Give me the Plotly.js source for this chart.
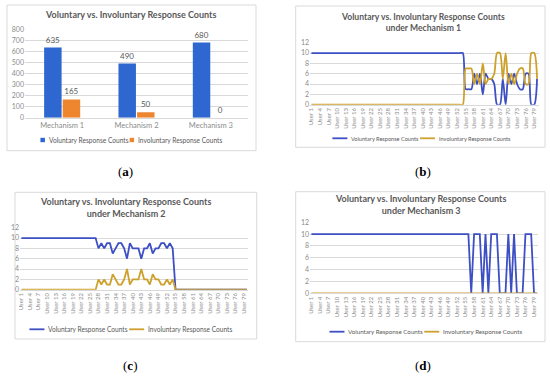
<!DOCTYPE html>
<html><head><meta charset="utf-8">
<script src="https://cdn.plot.ly/plotly-3.0.1.min.js"></script>
<style>html,body{margin:0;padding:0;background:#fff;} #chart{width:550px;height:377px;}</style>
</head><body><div id="chart"></div>
<script>
// ---------- data ----------
const mechanisms = ["Mechanism 1", "Mechanism 2", "Mechanism 3"];
const voluntaryTotals = [635, 490, 680];
const involuntaryTotals = [165, 50, 0];

const users = Array.from({length: 80}, (_, i) => "User " + (i + 1));
const userTicks = users.filter((_, i) => i % 3 === 0);

const m1Voluntary = [
  10,10,10,10,10,10,10,10,10,10,
  10,10,10,10,10,10,10,10,10,10,
  10,10,10,10,10,10,10,10,10,10,
  10,10,10,10,10,10,10,10,10,10,
  10,10,10,10,10,10,10,10,10,10,
  10,10,10,10,3,3,3,6,4,6,
  2,6,5,5,4,0,0,5,0,6,
  4,6,4,3,3,6,6,0,0,5];
const m1Involuntary = [
  0,0,0,0,0,0,0,0,0,0,
  0,0,0,0,0,0,0,0,0,0,
  0,0,0,0,0,0,0,0,0,0,
  0,0,0,0,0,0,0,0,0,0,
  0,0,0,0,0,0,0,0,0,0,
  0,0,0,0,7,7,7,4,6,4,
  8,4,5,5,6,10,10,5,10,4,
  6,4,6,7,7,4,4,10,10,5];

const m2Voluntary = [
  10,10,10,10,10,10,10,10,10,10,
  10,10,10,10,10,10,10,10,10,10,
  10,10,10,10,10,10,10,8,9,8,
  9,9,7,8,9,9,8,6,9,8,
  8,8,6,8,8,9,7,8,8,9,
  9,8,9,8,0,0,0,0,0,0,
  0,0,0,0,0,0,0,0,0,0,
  0,0,0,0,0,0,0,0,0,0];
const m2Involuntary = [
  0,0,0,0,0,0,0,0,0,0,
  0,0,0,0,0,0,0,0,0,0,
  0,0,0,0,0,0,0,2,1,2,
  1,1,3,2,1,1,2,4,1,2,
  2,2,4,2,2,1,3,2,2,1,
  1,2,1,2,0,0,0,0,0,0,
  0,0,0,0,0,0,0,0,0,0,
  0,0,0,0,0,0,0,0,0,0];

const m3Voluntary = [
  10,10,10,10,10,10,10,10,10,10,
  10,10,10,10,10,10,10,10,10,10,
  10,10,10,10,10,10,10,10,10,10,
  10,10,10,10,10,10,10,10,10,10,
  10,10,10,10,10,10,10,10,10,10,
  10,10,10,10,10,10,0,10,10,10,
  0,10,0,10,10,10,0,0,0,10,
  0,10,0,0,0,10,10,10,0,0];
const m3Involuntary = [
  0,0,0,0,0,0,0,0,0,0,
  0,0,0,0,0,0,0,0,0,0,
  0,0,0,0,0,0,0,0,0,0,
  0,0,0,0,0,0,0,0,0,0,
  0,0,0,0,0,0,0,0,0,0,
  0,0,0,0,0,0,0,0,0,0,
  0,0,0,0,0,0,0,0,0,0,
  0,0,0,0,0,0,0,0,0,0];

const seriesNames = ["Voluntary Response Counts", "Involuntary Response Counts"];
const chartTitle = "Voluntary vs. Involuntary Response Counts";
const subTitles = ["under Mechanism 1", "under Mechanism 2", "under Mechanism 3"];
const panelLabels = ["a", "b", "c", "d"];

// ---------- style ----------
const FONT = "Lato, 'Noto Sans', sans-serif";
const BAR_BLUE = "#2D67CF", BAR_ORANGE = "#EE8630";
const LINE_BLUE = "#3D4FC4", LINE_GOLD = "#CDA12C";
const GRID = "#d9d9d9", TICK = "#8c8c8c", TXT = "#595959";
const W = 550, H = 377;
const px = v => v / W, py = v => 1 - v / H;

const traces = [
  {type: "bar", x: mechanisms, y: voluntaryTotals, name: seriesNames[0], marker: {color: BAR_BLUE},
   text: voluntaryTotals.map(String), textposition: "outside", cliponaxis: false,
   textfont: {family: FONT, size: 8, color: TXT}, xaxis: "x", yaxis: "y"},
  {type: "bar", x: mechanisms, y: involuntaryTotals, name: seriesNames[1], marker: {color: BAR_ORANGE},
   text: involuntaryTotals.map(String), textposition: "outside", cliponaxis: false,
   textfont: {family: FONT, size: 8, color: TXT}, xaxis: "x", yaxis: "y"}
];
const lineSets = [[m1Voluntary, m1Involuntary, "spline"], [m2Voluntary, m2Involuntary, "linear"], [m3Voluntary, m3Involuntary, "linear"]];
lineSets.forEach((s, i) => {
  const n = i + 2;
  traces.push({type: "scatter", mode: "lines", x: users, y: s[0], name: seriesNames[0],
    line: {color: LINE_BLUE, width: 1.8, shape: s[2], smoothing: 0.8}, xaxis: "x" + n, yaxis: "y" + n, cliponaxis: false});
  traces.push({type: "scatter", mode: "lines", x: users, y: s[1], name: seriesNames[1],
    line: {color: LINE_GOLD, width: 1.8, shape: s[2], smoothing: 0.8}, xaxis: "x" + n, yaxis: "y" + n, cliponaxis: false});
});

const tickFont = {family: FONT, size: 7, color: TICK};
function lineX(dom, yref) {
  return {domain: dom, anchor: yref, type: "category", range: [-0.5, 79.5], tickmode: "array", tickvals: userTicks,
    tickangle: -90, tickfont: {family: FONT, size: 6, color: TICK}, showgrid: false, showline: true,
    linecolor: GRID, linewidth: 1, ticks: "", fixedrange: true};
}
function lineY(dom, xref) {
  return {domain: dom, anchor: xref, range: [0, 12], dtick: 2, tickfont: tickFont, gridcolor: GRID, gridwidth: 1,
    zeroline: false, showline: false, ticks: "", fixedrange: true};
}

// ---------- legends (keys + text, laid out centred) ----------
const ctx = document.createElement("canvas").getContext("2d");
function textWidth(s, fs) { ctx.font = fs + "px Lato"; return ctx.measureText(s).width; }
// [centre x, y, font size, key kind, key colours]
const legendSpecs = [
  [130.5, 140.0, 6.6, "box", BAR_BLUE, BAR_ORANGE],
  [420.5, 138.3, 5.6, "line", LINE_BLUE, LINE_GOLD],
  [130.0, 329.3, 6.6, "line", LINE_BLUE, LINE_GOLD],
  [425.0, 331.7, 6.2, "line", LINE_BLUE, LINE_GOLD]
];
const legendShapes = [], legendTexts = [];
legendSpecs.forEach(s => {
  const [cx, y, fs, kind, c1, c2] = s;
  const keyLen = kind === "box" ? 4.5 : 15;
  const w1 = textWidth(seriesNames[0], fs), w2 = textWidth(seriesNames[1], fs);
  const total = keyLen + 2 + w1 + 3 + keyLen + 2 + w2;
  let x = cx - total / 2;
  [[c1, seriesNames[0], w1], [c2, seriesNames[1], w2]].forEach(item => {
    if (kind === "box") {
      legendShapes.push({type: "rect", xref: "paper", yref: "paper", x0: px(x), x1: px(x + keyLen),
        y0: py(y + 2.2), y1: py(y - 2.2), line: {width: 0}, fillcolor: item[0]});
    } else {
      legendShapes.push({type: "line", xref: "paper", yref: "paper", x0: px(x), x1: px(x + keyLen),
        y0: py(y), y1: py(y), line: {color: item[0], width: 1.8}});
    }
    x += keyLen + 2;
    legendTexts.push({text: item[1], x: px(x), y: py(y), xref: "paper", yref: "paper", xanchor: "left",
      yanchor: "middle", showarrow: false, font: {family: FONT, size: fs, color: TXT}});
    x += item[2] + 3;
  });
});

const boxes = [[7, 5, 256, 150.7], [295.7, 6, 545, 147.3], [15, 192.3, 256.7, 339], [295.7, 191.7, 545, 341.7]];

const layout = {
  width: W, height: H, margin: {l: 0, r: 0, t: 0, b: 0}, paper_bgcolor: "#fff", plot_bgcolor: "rgba(0,0,0,0)",
  showlegend: false, barmode: "group", bargap: 0.5, bargroupgap: 0.06, font: {family: FONT, color: TXT},
  xaxis: {domain: [px(25), px(248)], anchor: "y", type: "category", showgrid: false, showline: true, linecolor: GRID,
    ticks: "", tickfont: {family: FONT, size: 7.5, color: TICK}, fixedrange: true},
  yaxis: {domain: [py(117.7), py(29.3)], anchor: "x", range: [0, 800], dtick: 100, gridcolor: GRID, zeroline: false,
    showline: false, ticks: "", tickfont: tickFont, fixedrange: true},
  xaxis2: lineX([px(310), px(538.5)], "y2"),
  yaxis2: lineY([py(104.7), py(42.7)], "x2"),
  xaxis3: lineX([px(20), px(248.3)], "y3"),
  yaxis3: lineY([py(289.7), py(227.7)], "x3"),
  xaxis4: lineX([px(310), px(538.3)], "y4"),
  yaxis4: lineY([py(293.3), py(222.3)], "x4"),
  shapes: boxes.map(b => ({
    type: "rect", xref: "paper", yref: "paper", x0: px(b[0]), x1: px(b[2]), y0: py(b[3]), y1: py(b[1]),
    line: {color: GRID, width: 1}, fillcolor: "rgba(0,0,0,0)", layer: "below"})).concat(legendShapes),
  annotations: [
    {text: "<b>" + chartTitle + "</b>", x: px(130), y: py(15), fs: 9},
    {text: "<b>" + chartTitle + "<br>" + subTitles[0] + "</b>", x: px(423), y: py(22.5), fs: 8.6},
    {text: "<b>" + chartTitle + "<br>" + subTitles[1] + "</b>", x: px(125), y: py(207.5), fs: 9},
    {text: "<b>" + chartTitle + "<br>" + subTitles[2] + "</b>", x: px(420), y: py(204), fs: 9}
  ].map(a => ({text: a.text, x: a.x, y: a.y, xref: "paper", yref: "paper", xanchor: "center", yanchor: "middle",
    showarrow: false, font: {family: FONT, size: a.fs, color: TXT}})).concat(
    [[125, 171], [423, 171], [130, 365], [423, 365]].map((p, i) => ({
      text: "(<b>" + panelLabels[i] + "</b>)", x: px(p[0]), y: py(p[1]), xref: "paper", yref: "paper",
      xanchor: "center", yanchor: "middle", showarrow: false,
      font: {family: "'Liberation Serif', 'DejaVu Serif', serif", size: 13, color: "#000"}}))).concat(legendTexts)
};

Plotly.newPlot("chart", traces, layout, {staticPlot: true, displayModeBar: false});
</script>
</body></html>
